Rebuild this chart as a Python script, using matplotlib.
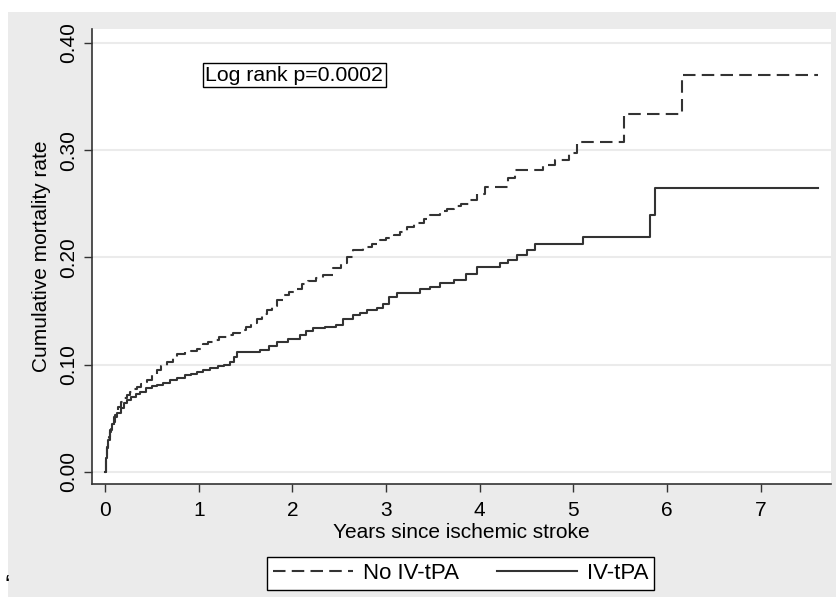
import matplotlib.pyplot as plt
from matplotlib.patches import Rectangle

plt.rcParams['font.family'] = ['Liberation Sans', 'DejaVu Sans']

# Kaplan-Meier style cumulative mortality
t_no = [0, 0.005, 0.01, 0.02, 0.03, 0.04, 0.05, 0.06, 0.07, 0.09, 0.11, 0.14,
        0.17, 0.20, 0.23, 0.27, 0.30, 0.34, 0.38, 0.42, 0.45, 0.50, 0.55, 0.60,
        0.66, 0.72, 0.77, 0.85, 0.92, 0.98, 1.05, 1.10, 1.15, 1.22, 1.30, 1.37,
        1.44, 1.50, 1.56, 1.62, 1.68, 1.73, 1.78, 1.84, 1.90, 1.96, 2.03, 2.10,
        2.17, 2.25, 2.33, 2.43, 2.52, 2.58, 2.65, 2.75, 2.85, 2.93, 3.00, 3.08,
        3.15, 3.22, 3.30, 3.40, 3.47, 3.58, 3.65, 3.72, 3.80, 3.90, 3.97, 4.06,
        4.30, 4.38, 4.68, 4.80, 4.95, 5.04, 5.54, 6.16, 7.61]
v_no = [0, 0.008, 0.014, 0.022, 0.028, 0.033, 0.037, 0.040, 0.043, 0.047, 0.053, 0.061,
        0.065, 0.069, 0.072, 0.075, 0.077, 0.079, 0.082, 0.084, 0.086, 0.090, 0.095, 0.099,
        0.103, 0.107, 0.110, 0.112, 0.113, 0.115, 0.119, 0.121, 0.123, 0.126, 0.128, 0.130,
        0.132, 0.135, 0.139, 0.143, 0.147, 0.151, 0.155, 0.160, 0.165, 0.168, 0.171, 0.175,
        0.178, 0.181, 0.184, 0.190, 0.195, 0.200, 0.207, 0.210, 0.213, 0.216, 0.218, 0.221,
        0.224, 0.228, 0.232, 0.236, 0.240, 0.243, 0.245, 0.248, 0.250, 0.254, 0.259, 0.266,
        0.274, 0.282, 0.286, 0.291, 0.297, 0.308, 0.334, 0.370, 0.370]

t_iv = [0, 0.005, 0.01, 0.02, 0.03, 0.05, 0.07, 0.10, 0.13, 0.17, 0.20, 0.23,
        0.28, 0.33, 0.37, 0.44, 0.50, 0.55, 0.62, 0.69, 0.77, 0.85, 0.92, 0.98,
        1.05, 1.12, 1.20, 1.27, 1.33, 1.38, 1.41, 1.65, 1.75, 1.84, 1.95, 2.08,
        2.15, 2.22, 2.35, 2.47, 2.54, 2.65, 2.72, 2.80, 2.90, 2.97, 3.03, 3.12,
        3.36, 3.47, 3.58, 3.72, 3.85, 3.97, 4.22, 4.30, 4.40, 4.50, 4.59, 5.10,
        5.82, 5.87, 7.61]
v_iv = [0, 0.008, 0.013, 0.023, 0.030, 0.039, 0.045, 0.051, 0.055, 0.060, 0.064, 0.067,
        0.070, 0.073, 0.075, 0.078, 0.080, 0.081, 0.083, 0.086, 0.088, 0.090, 0.091, 0.093,
        0.095, 0.097, 0.099, 0.100, 0.103, 0.107, 0.112, 0.114, 0.117, 0.121, 0.124, 0.128,
        0.131, 0.134, 0.135, 0.137, 0.143, 0.146, 0.148, 0.151, 0.153, 0.157, 0.163, 0.167,
        0.171, 0.172, 0.176, 0.179, 0.185, 0.191, 0.195, 0.198, 0.202, 0.207, 0.213, 0.219,
        0.240, 0.265, 0.265]

xticks = [0, 1, 2, 3, 4, 5, 6, 7]
yticks = [0.0, 0.1, 0.2, 0.3, 0.4]

W, H = 838, 597
fig = plt.figure(figsize=(W / 100, H / 100), dpi=100, facecolor='white')

# stata-ish grey outer region, drawn behind the axes
bg = Rectangle((8 / W, 0), (836 - 8) / W, (H - 12) / H,
               transform=fig.transFigure, facecolor='#ebebeb',
               edgecolor='none', zorder=-10)
fig.add_artist(bg)

ax = fig.add_axes([92 / W, (H - 484) / H, (831 - 92) / W, (484 - 29) / H])
ax.set_facecolor('white')

ax.plot(t_no, v_no, drawstyle='steps-post', color='#333333', lw=1.5,
        dashes=(6, 3), label='No IV-tPA')
ax.plot(t_iv, v_iv, drawstyle='steps-post', color='#333333', lw=1.5,
        label='IV-tPA')

ax.set_xlim(-0.14, 7.75)
ax.set_ylim(-0.0112, 0.413)
ax.set_xticks(xticks)
ax.set_yticks(yticks)
ax.set_yticklabels(['%.2f' % y for y in yticks], rotation=90, va='center')
ax.tick_params(labelsize=15, length=6, width=1, color='#333333')
ax.tick_params(axis='x', pad=6.5)
ax.tick_params(axis='y', pad=4)

ax.grid(axis='y', color='#ebebeb', lw=1.5)
ax.set_axisbelow(True)
for s in ['top', 'right']:
    ax.spines[s].set_visible(False)
for s in ['left', 'bottom']:
    ax.spines[s].set_color('#333333')
    ax.spines[s].set_linewidth(1.2)

ax.set_xlabel('Years since ischemic stroke', fontsize=15, labelpad=2)
ax.set_ylabel('Cumulative mortality rate', fontsize=15, labelpad=6)

ax.text(1.07, 0.370, 'Log rank p=0.0002', fontsize=15.3, va='center', ha='left',
        bbox=dict(boxstyle='square,pad=0.12', facecolor='white',
                  edgecolor='black', lw=1))

leg = fig.legend(loc='center', bbox_to_anchor=(460.5 / W, (H - 573.5) / H),
                 ncol=2, fontsize=16, frameon=True, fancybox=False,
                 edgecolor='black', facecolor='white', framealpha=1,
                 handlelength=3.6, handletextpad=0.45,
                 columnspacing=1.7, borderpad=0.25)
leg.get_frame().set_linewidth(1)

fig.text(4 / W, (H - 586) / H, '\u2018', fontsize=18, ha='left', va='center')

fig.savefig('out.png', dpi=100, facecolor='white')
